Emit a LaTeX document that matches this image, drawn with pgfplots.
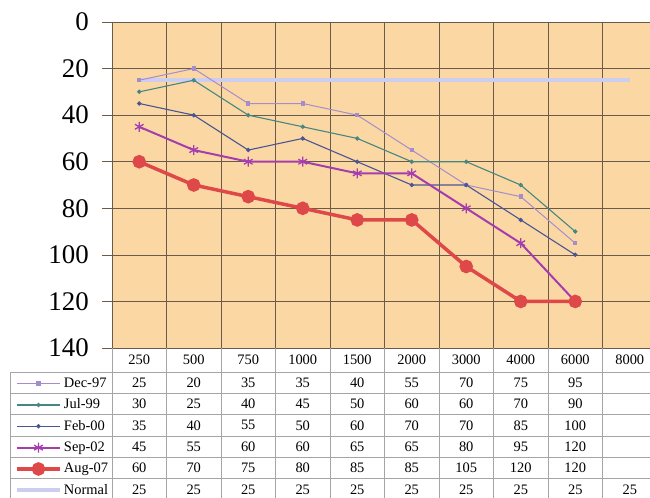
\documentclass[border=0pt]{standalone}
\usepackage{fontspec}
\setmainfont{Liberation Serif}
\usepackage{pgfplots}
\usepackage{pgfplotstable}
\pgfplotsset{compat=1.18}

\definecolor{bgc}{RGB}{251,216,163}
\definecolor{gridc}{RGB}{105,90,75}
\definecolor{tabc}{RGB}{165,165,165}
\definecolor{cdec}{RGB}{165,140,205}
\definecolor{cjul}{RGB}{70,135,130}
\definecolor{cfeb}{RGB}{75,85,150}
\definecolor{csep}{RGB}{165,60,175}
\definecolor{caug}{RGB}{222,72,72}
\definecolor{cnor}{RGB}{205,205,240}

% hearing thresholds (dB) per frequency
\pgfplotstableread{
x f    dec jul feb sep aug nor
0 250  25  30  35  45  60  25
1 500  20  25  40  55  70  25
2 750  35  40  55  60  75  25
3 1000 35  45  50  60  80  25
4 1500 40  50  60  65  85  25
5 2000 55  60  70  65  85  25
6 3000 70  60  70  80  105 25
7 4000 75  70  85  95  120 25
8 6000 95  90  100 120 120 25
9 8000 nan nan nan nan nan 25
}\audio

\pgfplotsset{
  sdec/.style={color=cdec, line width=1bp, mark=square*, mark size=1.7bp},
  sjul/.style={color=cjul, line width=1.1bp, mark=*, mark size=1.6bp},
  sfeb/.style={color=cfeb, line width=1.1bp, mark=*, mark size=1.6bp},
  ssep/.style={color=csep, line width=2bp, mark=asterisk, mark size=5bp, mark options={line width=1.3bp}},
  saug/.style={color=caug, line width=3.5bp, mark=*, mark size=5bp},
  snor/.style={color=cnor, line width=4bp, no markers},
}

\begin{document}
\begin{tikzpicture}
\begin{axis}[
  name=ax,
  scale only axis, width=545bp, height=326bp,
  xmin=-0.5, xmax=9.5, ymin=0, ymax=140, y dir=reverse,
  clip=false,
  axis background/.style={fill=bgc},
  separate axis lines,
  x axis line style={draw=none},
  y axis line style={draw=gridc, line width=0.7bp},
  xtick={0.5,1.5,...,8.5}, xticklabels={}, x tick style={draw=none},
  ytick={0,20,...,140}, ytick pos=left,
  tick align=outside, major tick length=10bp,
  y tick style={draw=gridc, line width=0.7bp},
  grid=major, major grid style={draw=gridc, line width=0.7bp},
  /pgf/number format/assume math mode=true,
  yticklabel style={font=\fontsize{27}{27}\selectfont, inner sep=0pt, anchor=east, xshift=-13bp},
  legend cell align=left,
  legend style={at={(-0.178,-0.0736)}, anchor=north west, draw=none, fill=none,
    inner sep=0pt, outer sep=0pt, row sep=0pt, column sep=2bp,
    font=\fontsize{14.5}{14.5}\selectfont,
    nodes={inner sep=0pt, text height=15.6bp, text depth=5.73bp}},
  legend image code/.code={\draw[mark repeat=2, mark phase=2, #1, yshift=-1bp]
    plot coordinates {(0bp,0bp) (21.5bp,0bp) (43bp,0bp)};},
]
\addplot[snor, forget plot] table[x=x, y=nor] {\audio};
\addplot[sdec] table[x=x, y=dec] {\audio};
\addlegendentry{Dec-97}
\addplot[sjul] table[x=x, y=jul] {\audio};
\addlegendentry{Jul-99}
\addplot[sfeb] table[x=x, y=feb] {\audio};
\addlegendentry{Feb-00}
\addplot[ssep] table[x=x, y=sep] {\audio};
\addlegendentry{Sep-02}
\addplot[saug] table[x=x, y=aug] {\audio};
\addlegendentry{Aug-07}
\addlegendimage{snor}
\addlegendentry{Normal}
\end{axis}

% data table under the chart
\begin{scope}[shift={(ax.south west)}, x=1bp, y=1bp, font=\fontsize{14.5}{14.5}\selectfont]
  \draw[tabc, line width=0.8bp] (-102,-24) -- (-102,-170);
  \foreach \k in {0,...,6}
    \draw[tabc, line width=0.8bp] (-102,-24-21.33*\k) -- (560,-24-21.33*\k);
  \foreach \k in {0,...,10}
    \draw[tabc, line width=0.8bp] (54.5*\k,0) -- (54.5*\k,-170);
  \foreach \f [count=\i from 0] in {250,500,750,1000,1500,2000,3000,4000,6000,8000}
    \node at (27.25+54.5*\i,-12) {\f};
  \foreach \row [count=\r] in {
      {25,20,35,35,40,55,70,75,95},
      {30,25,40,45,50,60,60,70,90},
      {35,40,55,50,60,70,70,85,100},
      {45,55,60,60,65,65,80,95,120},
      {60,70,75,80,85,85,105,120,120},
      {25,25,25,25,25,25,25,25,25,25}}
    \foreach \v [count=\i from 0] in \row
      \node at (27.25+54.5*\i,-24-21.33*\r+10.67) {\v};
\end{scope}

\pgfresetboundingbox
\path[use as bounding box] (ax.south west) ++(-112bp,-150bp) rectangle ++(650bp,498bp);
\end{tikzpicture}
\end{document}
